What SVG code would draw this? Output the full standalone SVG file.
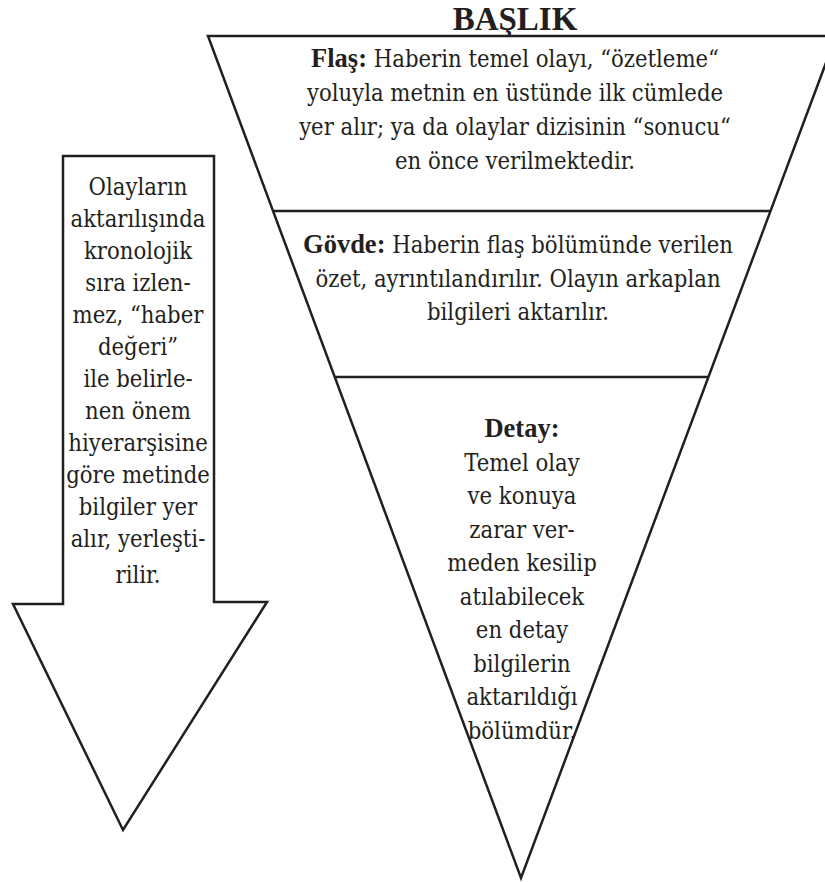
<svg xmlns="http://www.w3.org/2000/svg" width="825" height="882" viewBox="0 0 825 882">
<style>
.shape{fill:#fff;stroke:#231f20;stroke-width:2.5;stroke-linejoin:miter}
.line{stroke:#231f20;stroke-width:2.5}
.t text{font-family:'DejaVu Serif Condensed','DejaVu Serif',serif;font-size:23.6px;font-weight:normal;fill:#231f20;text-anchor:middle}
.t .b{font-family:'Liberation Serif',serif;font-size:26.5px;font-weight:bold}
.t .title{font-family:'Liberation Serif',serif;font-size:33px;font-weight:bold}
</style>
<rect width="825" height="882" fill="#fff"/>
<g id="title" class="t"><text class="title" x="515" y="30">BAŞLIK</text></g>
<g id="pyramid">
<polygon class="shape" points="208,36 836,36 521,878"/>
<line class="line" x1="272" y1="211" x2="770" y2="211"/>
<line class="line" x1="334" y1="377" x2="708" y2="377"/>
</g>
<g id="flas" class="t">
<text x="515" y="67"><tspan class="b">Flaş:</tspan> Haberin temel olayı, “özetleme“</text>
<text x="515" y="101">yoluyla metnin en üstünde ilk cümlede</text>
<text x="515" y="135">yer alır; ya da olaylar dizisinin “sonucu“</text>
<text x="515" y="169">en önce verilmektedir.</text>
</g>
<g id="govde" class="t">
<text x="518" y="253"><tspan class="b">Gövde:</tspan> Haberin flaş bölümünde verilen</text>
<text x="518" y="287">özet, ayrıntılandırılır. Olayın arkaplan</text>
<text x="518" y="320">bilgileri aktarılır.</text>
</g>
<g id="detay" class="t">
<text class="b" x="522" y="437">Detay:</text>
<text x="522" y="470.5">Temel olay</text>
<text x="522" y="504">ve konuya</text>
<text x="522" y="537.5">zarar ver-</text>
<text x="522" y="571">meden kesilip</text>
<text x="522" y="604.5">atılabilecek</text>
<text x="522" y="638">en detay</text>
<text x="522" y="671.5">bilgilerin</text>
<text x="522" y="705">aktarıldığı</text>
<text x="522" y="738.5">bölümdür.</text>
</g>
<g id="arrow" class="t">
<polygon class="shape" points="63,156 214,156 214,602 267,602 123,830 13,604 63,604"/>
<text x="138" y="195">Olayların</text>
<text x="138" y="227">aktarılışında</text>
<text x="138" y="259">kronolojik</text>
<text x="138" y="291">sıra izlen-</text>
<text x="138" y="323">mez, “haber</text>
<text x="138" y="355">değeri”</text>
<text x="138" y="387">ile belirle-</text>
<text x="138" y="419">nen önem</text>
<text x="138" y="451">hiyerarşisine</text>
<text x="138" y="483">göre metinde</text>
<text x="138" y="515">bilgiler yer</text>
<text x="138" y="547">alır, yerleşti-</text>
<text x="138" y="583">rilir.</text>
</g>
</svg>
